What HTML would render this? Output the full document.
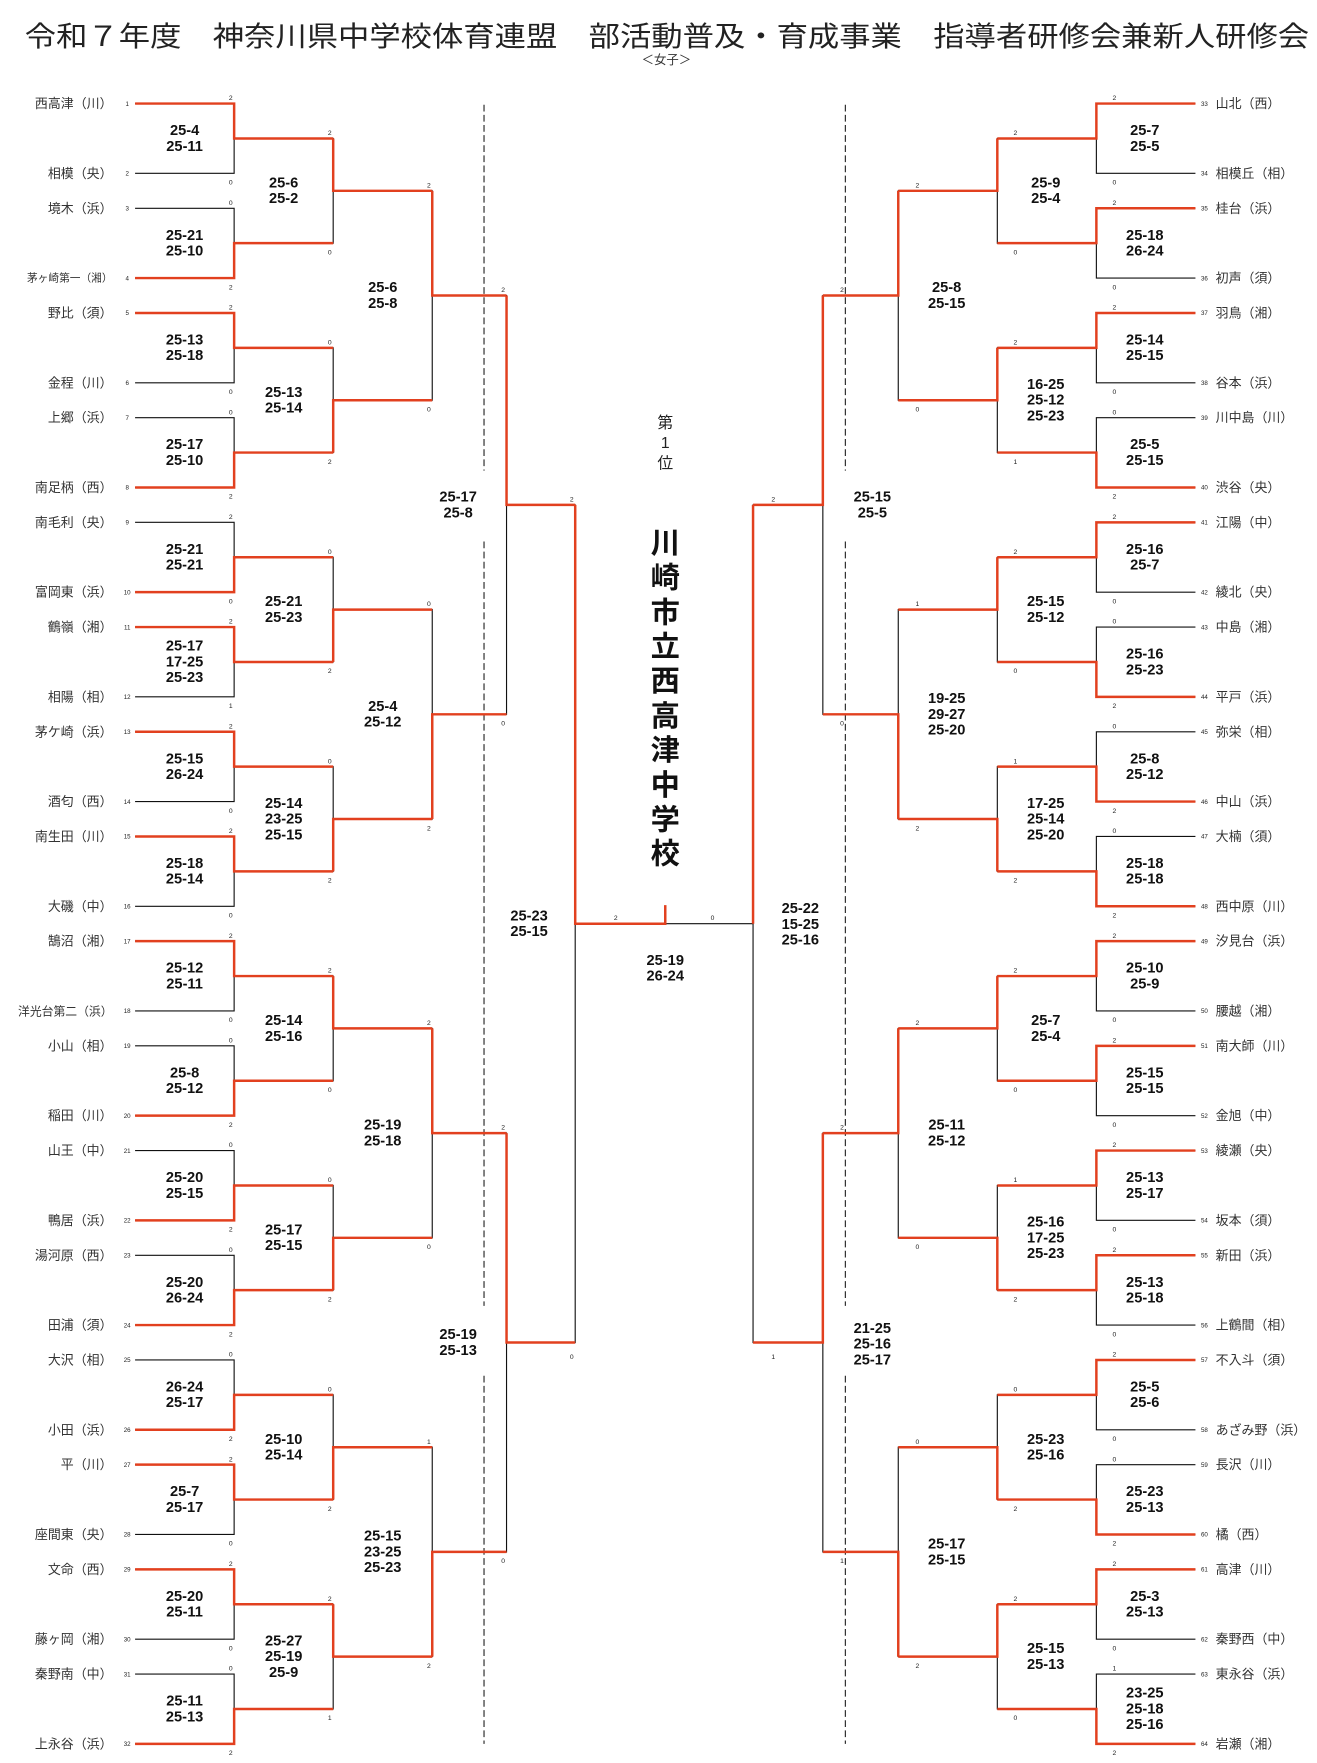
<!DOCTYPE html>
<html><head><meta charset="utf-8">
<style>
html,body{margin:0;padding:0;background:#fff;}
svg{display:block;}
text{font-family:"Liberation Sans","Noto Sans CJK JP",sans-serif;}
.n{font-size:11.5px;fill:#333;}
.s{font-size:13px;font-weight:bold;fill:#111;text-anchor:middle;font-family:"Liberation Sans Narrow","Liberation Sans",sans-serif;}
.t{font-size:6px;fill:#222;text-anchor:middle;}
.k{font-size:5.5px;fill:#222;text-anchor:middle;}
.bk{fill:none;stroke:#111;stroke-width:1;}
.rd{fill:none;stroke:#e2401f;stroke-width:2.2;}
</style></head><body>
<svg width="1317" height="1763" viewBox="0 0 1170 1566" preserveAspectRatio="none" xmlns="http://www.w3.org/2000/svg">
<text x="22" y="41" font-size="24.5" fill="#222" textLength="1141" lengthAdjust="spacingAndGlyphs">令和７年度　神奈川県中学校体育連盟　部活動普及・育成事業　指導者研修会兼新人研修会</text>
<text x="592" y="57" font-size="11" fill="#333" text-anchor="middle">＜女子＞</text>

<path d="M430,93V418M430,481V1160M430,1222V1549M751,93V418M751,481V1160M751,1222V1549" stroke="#222" stroke-width="1" stroke-dasharray="6,3" fill="none"/>

<path class="bk" d="
M120,92H208V154H120 M120,185H208V247H120 M120,278H208V340H120 M120,371H208V433H120
M120,464H208V526H120 M120,557H208V619H120 M120,650H208V712H120 M120,743H208V805H120
M120,836H208V898H120 M120,929H208V991H120 M120,1022H208V1084H120 M120,1115H208V1177H120
M120,1208H208V1270H120 M120,1301H208V1363H120 M120,1394H208V1456H120 M120,1487H208V1549H120
M208,123H296V216H208 M208,309H296V402H208 M208,495H296V588H208 M208,681H296V774H208
M208,867H296V960H208 M208,1053H296V1146H208 M208,1239H296V1332H208 M208,1425H296V1518H208
M296,169.5H384V355.5H296 M296,541.5H384V727.5H296 M296,913.5H384V1099.5H296 M296,1285.5H384V1471.5H296
M384,262.5H450V634.5H384 M384,1006.5H450V1378.5H384
M450,448.5H511V1192.5H450
M511,820.5H669
M1062,92H974V154H1062 M1062,185H974V247H1062 M1062,278H974V340H1062 M1062,371H974V433H1062
M1062,464H974V526H1062 M1062,557H974V619H1062 M1062,650H974V712H1062 M1062,743H974V805H1062
M1062,836H974V898H1062 M1062,929H974V991H1062 M1062,1022H974V1084H1062 M1062,1115H974V1177H1062
M1062,1208H974V1270H1062 M1062,1301H974V1363H1062 M1062,1394H974V1456H1062 M1062,1487H974V1549H1062
M974,123H886V216H974 M974,309H886V402H974 M974,495H886V588H974 M974,681H886V774H974
M974,867H886V960H974 M974,1053H886V1146H974 M974,1239H886V1332H974 M974,1425H886V1518H974
M886,169.5H798V355.5H886 M886,541.5H798V727.5H886 M886,913.5H798V1099.5H886 M886,1285.5H798V1471.5H886
M798,262.5H731V634.5H798 M798,1006.5H731V1378.5H798
M731,448.5H669V1192.5H731"/>

<path class="rd" d="
M120,92H208V123H296 M120,247H208V216H296 M120,278H208V309H296 M120,433H208V402H296
M120,526H208V495H296 M120,557H208V588H296 M120,650H208V681H296 M120,743H208V774H296
M120,836H208V867H296 M120,991H208V960H296 M120,1084H208V1053H296 M120,1177H208V1146H296
M120,1270H208V1239H296 M120,1301H208V1332H296 M120,1394H208V1425H296 M120,1549H208V1518H296
M296,123V169.5H384 M296,402V355.5H384 M296,588V541.5H384 M296,774V727.5H384
M296,867V913.5H384 M296,1146V1099.5H384 M296,1332V1285.5H384 M296,1425V1471.5H384
M384,169.5V262.5H450 M384,727.5V634.5H450 M384,913.5V1006.5H450 M384,1471.5V1378.5H450
M450,262.5V448.5H511 M450,1006.5V1192.5H511
M511,448.5V820.5H591V804
M1062,92H974V123H886 M1062,185H974V216H886 M1062,278H974V309H886 M1062,433H974V402H886
M1062,464H974V495H886 M1062,619H974V588H886 M1062,712H974V681H886 M1062,805H974V774H886
M1062,836H974V867H886 M1062,929H974V960H886 M1062,1022H974V1053H886 M1062,1115H974V1146H886
M1062,1208H974V1239H886 M1062,1363H974V1332H886 M1062,1394H974V1425H886 M1062,1549H974V1518H886
M886,123V169.5H798 M886,309V355.5H798 M886,495V541.5H798 M886,774V727.5H798
M886,867V913.5H798 M886,1146V1099.5H798 M886,1332V1285.5H798 M886,1425V1471.5H798
M798,169.5V262.5H731 M798,727.5V634.5H731 M798,913.5V1006.5H731 M798,1471.5V1378.5H731
M731,262.5V448.5H669 M731,1006.5V1192.5H669
M669,448.5V820.5"/>

<g class="n" text-anchor="end">
<text x="100" y="96">西高津（川）</text><text x="100" y="158">相模（央）</text>
<text x="100" y="189">境木（浜）</text><text x="100" y="250" font-size="9.5">茅ヶ崎第一（湘）</text>
<text x="100" y="282">野比（須）</text><text x="100" y="344">金程（川）</text>
<text x="100" y="375">上郷（浜）</text><text x="100" y="437">南足柄（西）</text>
<text x="100" y="468">南毛利（央）</text><text x="100" y="530">富岡東（浜）</text>
<text x="100" y="561">鶴嶺（湘）</text><text x="100" y="623">相陽（相）</text>
<text x="100" y="654">茅ケ崎（浜）</text><text x="100" y="716">酒匂（西）</text>
<text x="100" y="747">南生田（川）</text><text x="100" y="809">大磯（中）</text>
<text x="100" y="840">鵠沼（湘）</text><text x="100" y="902" font-size="10.5">洋光台第二（浜）</text>
<text x="100" y="933">小山（相）</text><text x="100" y="995">稲田（川）</text>
<text x="100" y="1026">山王（中）</text><text x="100" y="1088">鴨居（浜）</text>
<text x="100" y="1119">湯河原（西）</text><text x="100" y="1181">田浦（須）</text>
<text x="100" y="1212">大沢（相）</text><text x="100" y="1274">小田（浜）</text>
<text x="100" y="1305">平（川）</text><text x="100" y="1367">座間東（央）</text>
<text x="100" y="1398">文命（西）</text><text x="100" y="1460">藤ヶ岡（湘）</text>
<text x="100" y="1491">秦野南（中）</text><text x="100" y="1553">上永谷（浜）</text>
</g>
<g class="n">
<text x="1080" y="96">山北（西）</text><text x="1080" y="158">相模丘（相）</text>
<text x="1080" y="189">桂台（浜）</text><text x="1080" y="251">初声（須）</text>
<text x="1080" y="282">羽鳥（湘）</text><text x="1080" y="344">谷本（浜）</text>
<text x="1080" y="375">川中島（川）</text><text x="1080" y="437">渋谷（央）</text>
<text x="1080" y="468">江陽（中）</text><text x="1080" y="530">綾北（央）</text>
<text x="1080" y="561">中島（湘）</text><text x="1080" y="623">平戸（浜）</text>
<text x="1080" y="654">弥栄（相）</text><text x="1080" y="716">中山（浜）</text>
<text x="1080" y="747">大楠（須）</text><text x="1080" y="809">西中原（川）</text>
<text x="1080" y="840">汐見台（浜）</text><text x="1080" y="902">腰越（湘）</text>
<text x="1080" y="933">南大師（川）</text><text x="1080" y="995">金旭（中）</text>
<text x="1080" y="1026">綾瀬（央）</text><text x="1080" y="1088">坂本（須）</text>
<text x="1080" y="1119">新田（浜）</text><text x="1080" y="1181">上鶴間（相）</text>
<text x="1080" y="1212">不入斗（須）</text><text x="1080" y="1274">あざみ野（浜）</text>
<text x="1080" y="1305">長沢（川）</text><text x="1080" y="1367">橘（西）</text>
<text x="1080" y="1398">高津（川）</text><text x="1080" y="1460">秦野西（中）</text>
<text x="1080" y="1491">東永谷（浜）</text><text x="1080" y="1553">岩瀬（湘）</text>
</g>
<g class="k">
<text x="113" y="94">1</text><text x="113" y="156">2</text><text x="113" y="187">3</text><text x="113" y="249">4</text>
<text x="113" y="280">5</text><text x="113" y="342">6</text><text x="113" y="373">7</text><text x="113" y="435">8</text>
<text x="113" y="466">9</text><text x="113" y="528">10</text><text x="113" y="559">11</text><text x="113" y="621">12</text>
<text x="113" y="652">13</text><text x="113" y="714">14</text><text x="113" y="745">15</text><text x="113" y="807">16</text>
<text x="113" y="838">17</text><text x="113" y="900">18</text><text x="113" y="931">19</text><text x="113" y="993">20</text>
<text x="113" y="1024">21</text><text x="113" y="1086">22</text><text x="113" y="1117">23</text><text x="113" y="1179">24</text>
<text x="113" y="1210">25</text><text x="113" y="1272">26</text><text x="113" y="1303">27</text><text x="113" y="1365">28</text>
<text x="113" y="1396">29</text><text x="113" y="1458">30</text><text x="113" y="1489">31</text><text x="113" y="1551">32</text>
<text x="1070" y="94">33</text><text x="1070" y="156">34</text><text x="1070" y="187">35</text><text x="1070" y="249">36</text>
<text x="1070" y="280">37</text><text x="1070" y="342">38</text><text x="1070" y="373">39</text><text x="1070" y="435">40</text>
<text x="1070" y="466">41</text><text x="1070" y="528">42</text><text x="1070" y="559">43</text><text x="1070" y="621">44</text>
<text x="1070" y="652">45</text><text x="1070" y="714">46</text><text x="1070" y="745">47</text><text x="1070" y="807">48</text>
<text x="1070" y="838">49</text><text x="1070" y="900">50</text><text x="1070" y="931">51</text><text x="1070" y="993">52</text>
<text x="1070" y="1024">53</text><text x="1070" y="1086">54</text><text x="1070" y="1117">55</text><text x="1070" y="1179">56</text>
<text x="1070" y="1210">57</text><text x="1070" y="1272">58</text><text x="1070" y="1303">59</text><text x="1070" y="1365">60</text>
<text x="1070" y="1396">61</text><text x="1070" y="1458">62</text><text x="1070" y="1489">63</text><text x="1070" y="1551">64</text>
</g>

<g class="t">
<text x="205" y="89">2</text><text x="205" y="164">0</text>
<text x="205" y="182">0</text><text x="205" y="257">2</text>
<text x="205" y="275">2</text><text x="205" y="350">0</text>
<text x="205" y="368">0</text><text x="205" y="443">2</text>
<text x="205" y="461">2</text><text x="205" y="536">0</text>
<text x="205" y="554">2</text><text x="205" y="629">1</text>
<text x="205" y="647">2</text><text x="205" y="722">0</text>
<text x="205" y="740">2</text><text x="205" y="815">0</text>
<text x="205" y="833">2</text><text x="205" y="908">0</text>
<text x="205" y="926">0</text><text x="205" y="1001">2</text>
<text x="205" y="1019">0</text><text x="205" y="1094">2</text>
<text x="205" y="1112">0</text><text x="205" y="1187">2</text>
<text x="205" y="1205">0</text><text x="205" y="1280">2</text>
<text x="205" y="1298">2</text><text x="205" y="1373">0</text>
<text x="205" y="1391">2</text><text x="205" y="1466">0</text>
<text x="205" y="1484">0</text><text x="205" y="1559">2</text>
<text x="293" y="120">2</text><text x="293" y="226">0</text>
<text x="293" y="306">0</text><text x="293" y="412">2</text>
<text x="293" y="492">0</text><text x="293" y="598">2</text>
<text x="293" y="678">0</text><text x="293" y="784">2</text>
<text x="293" y="864">2</text><text x="293" y="970">0</text>
<text x="293" y="1050">0</text><text x="293" y="1156">2</text>
<text x="293" y="1236">0</text><text x="293" y="1342">2</text>
<text x="293" y="1422">2</text><text x="293" y="1528">1</text>
<text x="381" y="166.5">2</text><text x="381" y="365.5">0</text>
<text x="381" y="538.5">0</text><text x="381" y="737.5">2</text>
<text x="381" y="910.5">2</text><text x="381" y="1109.5">0</text>
<text x="381" y="1282.5">1</text><text x="381" y="1481.5">2</text>
<text x="447" y="259.5">2</text><text x="447" y="644.5">0</text>
<text x="447" y="1003.5">2</text><text x="447" y="1388.5">0</text>
<text x="508" y="445.5">2</text><text x="508" y="1207">0</text>
<text x="547" y="817">2</text><text x="633" y="817">0</text>
<text x="990" y="89">2</text><text x="990" y="164">0</text>
<text x="990" y="182">2</text><text x="990" y="257">0</text>
<text x="990" y="275">2</text><text x="990" y="350">0</text>
<text x="990" y="368">0</text><text x="990" y="443">2</text>
<text x="990" y="461">2</text><text x="990" y="536">0</text>
<text x="990" y="554">0</text><text x="990" y="629">2</text>
<text x="990" y="647">0</text><text x="990" y="722">2</text>
<text x="990" y="740">0</text><text x="990" y="815">2</text>
<text x="990" y="833">2</text><text x="990" y="908">0</text>
<text x="990" y="926">2</text><text x="990" y="1001">0</text>
<text x="990" y="1019">2</text><text x="990" y="1094">0</text>
<text x="990" y="1112">2</text><text x="990" y="1187">0</text>
<text x="990" y="1205">2</text><text x="990" y="1280">0</text>
<text x="990" y="1298">0</text><text x="990" y="1373">2</text>
<text x="990" y="1391">2</text><text x="990" y="1466">0</text>
<text x="990" y="1484">1</text><text x="990" y="1559">2</text>
<text x="902" y="120">2</text><text x="902" y="226">0</text>
<text x="902" y="306">2</text><text x="902" y="412">1</text>
<text x="902" y="492">2</text><text x="902" y="598">0</text>
<text x="902" y="678">1</text><text x="902" y="784">2</text>
<text x="902" y="864">2</text><text x="902" y="970">0</text>
<text x="902" y="1050">1</text><text x="902" y="1156">2</text>
<text x="902" y="1236">0</text><text x="902" y="1342">2</text>
<text x="902" y="1422">2</text><text x="902" y="1528">0</text>
<text x="815" y="166.5">2</text><text x="815" y="365.5">0</text>
<text x="815" y="538.5">1</text><text x="815" y="737.5">2</text>
<text x="815" y="910.5">2</text><text x="815" y="1109.5">0</text>
<text x="815" y="1282.5">0</text><text x="815" y="1481.5">2</text>
<text x="748" y="259.5">2</text><text x="748" y="644.5">0</text>
<text x="748" y="1003.5">2</text><text x="748" y="1388.5">1</text>
<text x="687" y="445.5">2</text><text x="687" y="1207">1</text>
</g>

<g class="s">
<text x="164" y="120">25-4</text><text x="164" y="134">25-11</text>
<text x="164" y="213">25-21</text><text x="164" y="227">25-10</text>
<text x="164" y="306">25-13</text><text x="164" y="320">25-18</text>
<text x="164" y="399">25-17</text><text x="164" y="413">25-10</text>
<text x="164" y="492">25-21</text><text x="164" y="506">25-21</text>
<text x="164" y="578">25-17</text><text x="164" y="592">17-25</text><text x="164" y="606">25-23</text>
<text x="164" y="678">25-15</text><text x="164" y="692">26-24</text>
<text x="164" y="771">25-18</text><text x="164" y="785">25-14</text>
<text x="164" y="864">25-12</text><text x="164" y="878">25-11</text>
<text x="164" y="957">25-8</text><text x="164" y="971">25-12</text>
<text x="164" y="1050">25-20</text><text x="164" y="1064">25-15</text>
<text x="164" y="1143">25-20</text><text x="164" y="1157">26-24</text>
<text x="164" y="1236">26-24</text><text x="164" y="1250">25-17</text>
<text x="164" y="1329">25-7</text><text x="164" y="1343">25-17</text>
<text x="164" y="1422">25-20</text><text x="164" y="1436">25-11</text>
<text x="164" y="1515">25-11</text><text x="164" y="1529">25-13</text>
<text x="252" y="166.5">25-6</text><text x="252" y="180.5">25-2</text>
<text x="252" y="352.5">25-13</text><text x="252" y="366.5">25-14</text>
<text x="252" y="538.5">25-21</text><text x="252" y="552.5">25-23</text>
<text x="252" y="717.5">25-14</text><text x="252" y="731.5">23-25</text><text x="252" y="745.5">25-15</text>
<text x="252" y="910.5">25-14</text><text x="252" y="924.5">25-16</text>
<text x="252" y="1096.5">25-17</text><text x="252" y="1110.5">25-15</text>
<text x="252" y="1282.5">25-10</text><text x="252" y="1296.5">25-14</text>
<text x="252" y="1461.5">25-27</text><text x="252" y="1475.5">25-19</text><text x="252" y="1489.5">25-9</text>
<text x="340" y="259.5">25-6</text><text x="340" y="273.5">25-8</text>
<text x="340" y="631.5">25-4</text><text x="340" y="645.5">25-12</text>
<text x="340" y="1003.5">25-19</text><text x="340" y="1017.5">25-18</text>
<text x="340" y="1368.5">25-15</text><text x="340" y="1382.5">23-25</text><text x="340" y="1396.5">25-23</text>
<text x="407" y="445.5">25-17</text><text x="407" y="459.5">25-8</text>
<text x="407" y="1189.5">25-19</text><text x="407" y="1203.5">25-13</text>
<text x="470" y="817.5">25-23</text><text x="470" y="831.5">25-15</text>
<text x="591" y="857">25-19</text><text x="591" y="871">26-24</text>
<text x="1017" y="120">25-7</text><text x="1017" y="134">25-5</text>
<text x="1017" y="213">25-18</text><text x="1017" y="227">26-24</text>
<text x="1017" y="306">25-14</text><text x="1017" y="320">25-15</text>
<text x="1017" y="399">25-5</text><text x="1017" y="413">25-15</text>
<text x="1017" y="492">25-16</text><text x="1017" y="506">25-7</text>
<text x="1017" y="585">25-16</text><text x="1017" y="599">25-23</text>
<text x="1017" y="678">25-8</text><text x="1017" y="692">25-12</text>
<text x="1017" y="771">25-18</text><text x="1017" y="785">25-18</text>
<text x="1017" y="864">25-10</text><text x="1017" y="878">25-9</text>
<text x="1017" y="957">25-15</text><text x="1017" y="971">25-15</text>
<text x="1017" y="1050">25-13</text><text x="1017" y="1064">25-17</text>
<text x="1017" y="1143">25-13</text><text x="1017" y="1157">25-18</text>
<text x="1017" y="1236">25-5</text><text x="1017" y="1250">25-6</text>
<text x="1017" y="1329">25-23</text><text x="1017" y="1343">25-13</text>
<text x="1017" y="1422">25-3</text><text x="1017" y="1436">25-13</text>
<text x="1017" y="1508">23-25</text><text x="1017" y="1522">25-18</text><text x="1017" y="1536">25-16</text>
<text x="929" y="166.5">25-9</text><text x="929" y="180.5">25-4</text>
<text x="929" y="345.5">16-25</text><text x="929" y="359.5">25-12</text><text x="929" y="373.5">25-23</text>
<text x="929" y="538.5">25-15</text><text x="929" y="552.5">25-12</text>
<text x="929" y="717.5">17-25</text><text x="929" y="731.5">25-14</text><text x="929" y="745.5">25-20</text>
<text x="929" y="910.5">25-7</text><text x="929" y="924.5">25-4</text>
<text x="929" y="1089.5">25-16</text><text x="929" y="1103.5">17-25</text><text x="929" y="1117.5">25-23</text>
<text x="929" y="1282.5">25-23</text><text x="929" y="1296.5">25-16</text>
<text x="929" y="1468.5">25-15</text><text x="929" y="1482.5">25-13</text>
<text x="841" y="259.5">25-8</text><text x="841" y="273.5">25-15</text>
<text x="841" y="624.5">19-25</text><text x="841" y="638.5">29-27</text><text x="841" y="652.5">25-20</text>
<text x="841" y="1003.5">25-11</text><text x="841" y="1017.5">25-12</text>
<text x="841" y="1375.5">25-17</text><text x="841" y="1389.5">25-15</text>
<text x="775" y="445.5">25-15</text><text x="775" y="459.5">25-5</text>
<text x="775" y="1184">21-25</text><text x="775" y="1198">25-16</text><text x="775" y="1212">25-17</text>
<text x="711" y="811">25-22</text><text x="711" y="825">15-25</text><text x="711" y="839">25-16</text>
</g>

<g font-size="14" fill="#222" text-anchor="middle">
<text x="591" y="380">第</text><text x="591" y="398">1</text><text x="591" y="416">位</text>
</g>
<g font-size="26" font-weight="bold" fill="#111" text-anchor="middle">
<text x="591" y="491">川</text><text x="591" y="522">崎</text><text x="591" y="553">市</text>
<text x="591" y="583">立</text><text x="591" y="614">西</text><text x="591" y="645">高</text>
<text x="591" y="675">津</text><text x="591" y="706">中</text><text x="591" y="737">学</text>
<text x="591" y="767">校</text>
</g>
</svg>
</body></html>
